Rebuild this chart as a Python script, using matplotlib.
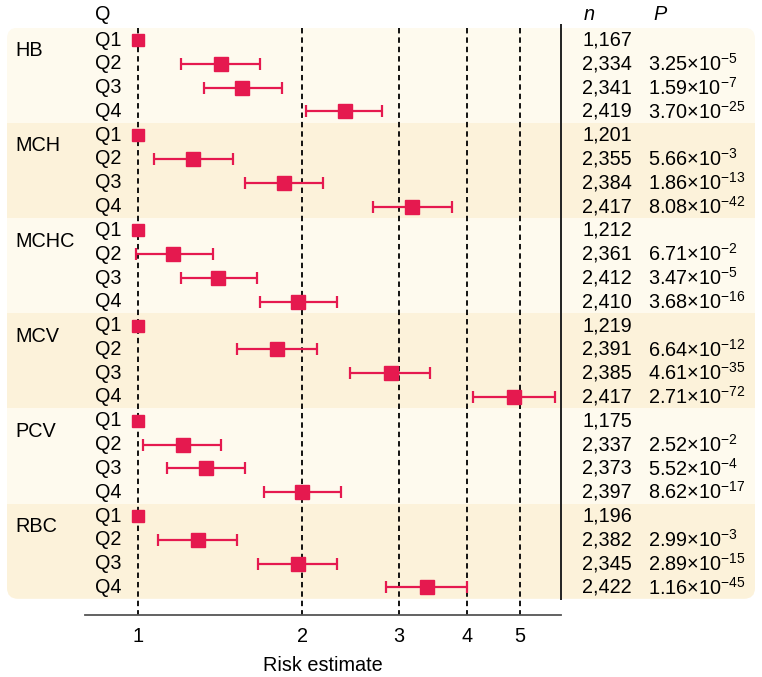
import matplotlib
matplotlib.use("Agg")
import matplotlib.pyplot as plt
from matplotlib.patches import FancyBboxPatch, Rectangle
import numpy as np

plt.rcParams['font.family'] = ['Liberation Sans', 'DejaVu Sans']
plt.rcParams['mathtext.fontset'] = 'custom'
plt.rcParams['mathtext.rm'] = 'Liberation Sans'
plt.rcParams['mathtext.it'] = 'Liberation Sans:italic'
plt.rcParams['mathtext.default'] = 'regular'

# ---------------- data ----------------
groups = ["HB", "MCH", "MCHC", "MCV", "PCV", "RBC"]
quartiles = ["Q1", "Q2", "Q3", "Q4"]

est = {
    "HB":   [1.0, 1.42, 1.55, 2.39],
    "MCH":  [1.0, 1.26, 1.85, 3.17],
    "MCHC": [1.0, 1.16, 1.40, 1.96],
    "MCV":  [1.0, 1.80, 2.90, 4.88],
    "PCV":  [1.0, 1.21, 1.33, 2.00],
    "RBC":  [1.0, 1.29, 1.96, 3.38],
}
ci_low = {
    "HB":   [None, 1.20, 1.32, 2.03],
    "MCH":  [None, 1.07, 1.57, 2.69],
    "MCHC": [None, 0.99, 1.20, 1.67],
    "MCV":  [None, 1.52, 2.44, 4.10],
    "PCV":  [None, 1.02, 1.13, 1.70],
    "RBC":  [None, 1.09, 1.66, 2.85],
}
ci_high = {
    "HB":   [None, 1.675, 1.835, 2.80],
    "MCH":  [None, 1.49, 2.18, 3.76],
    "MCHC": [None, 1.37, 1.65, 2.31],
    "MCV":  [None, 2.13, 3.43, 5.79],
    "PCV":  [None, 1.42, 1.57, 2.35],
    "RBC":  [None, 1.52, 2.31, 4.00],
}
n_values = {
    "HB":   ["1,167", "2,334", "2,341", "2,419"],
    "MCH":  ["1,201", "2,355", "2,384", "2,417"],
    "MCHC": ["1,212", "2,361", "2,412", "2,410"],
    "MCV":  ["1,219", "2,391", "2,385", "2,417"],
    "PCV":  ["1,175", "2,337", "2,373", "2,397"],
    "RBC":  ["1,196", "2,382", "2,345", "2,422"],
}
p_mant = {
    "HB":   [None, "3.25", "1.59", "3.70"],
    "MCH":  [None, "5.66", "1.86", "8.08"],
    "MCHC": [None, "6.71", "3.47", "3.68"],
    "MCV":  [None, "6.64", "4.61", "2.71"],
    "PCV":  [None, "2.52", "5.52", "8.62"],
    "RBC":  [None, "2.99", "2.89", "1.16"],
}
p_exp = {
    "HB":   [None, -5, -7, -25],
    "MCH":  [None, -3, -13, -42],
    "MCHC": [None, -2, -5, -16],
    "MCV":  [None, -12, -35, -72],
    "PCV":  [None, -2, -4, -17],
    "RBC":  [None, -3, -15, -45],
}
xticks = [1, 2, 3, 4, 5]
xlabel = "Risk estimate"

# ---------------- layout ----------------
W, H = 762, 677
DPI = 100
ROW0, ROWSTEP = 40.0, 23.8          # pixel y of first row and row spacing
AX_L, AX_R, AX_T, AX_B = 85, 561, 0, 615
RED = "#E5194F"
LIGHT = "#FEFAEE"
DARK = "#FCF2DA"
FS = 14.3

def row_px(r):
    return ROW0 + ROWSTEP * r

fig = plt.figure(figsize=(W / DPI, H / DPI), dpi=DPI)

# background / text axes in pixel coordinates
bg = fig.add_axes([0, 0, 1, 1], zorder=0)
bg.set_xlim(0, W)
bg.set_ylim(H, 0)
bg.axis("off")

clip = FancyBboxPatch((7, row_px(-0.52)), 755 - 7, row_px(23.48) - row_px(-0.52),
                      boxstyle="round,pad=0,rounding_size=11",
                      facecolor="none", edgecolor="none")
bg.add_patch(clip)
for gi, g in enumerate(groups):
    top = row_px(4 * gi - 0.52)
    bot = row_px(4 * gi + 3.48)
    rect = Rectangle((0, top), W, bot - top,
                     facecolor=LIGHT if gi % 2 == 0 else DARK, edgecolor="none")
    bg.add_patch(rect)
    rect.set_clip_path(clip)

# headers
bg.text(95, 15, "Q", fontsize=FS, ha="left", va="center")
bg.text(584, 15, "n", fontsize=FS, ha="left", va="center", style="italic")
bg.text(653, 15, "P", fontsize=FS, ha="left", va="center", style="italic")

for gi, g in enumerate(groups):
    bg.text(15, row_px(4 * gi + 0.45), g, fontsize=FS, ha="left", va="center")
    for qi, q in enumerate(quartiles):
        r = 4 * gi + qi
        y = row_px(r)
        bg.text(95, y, q, fontsize=FS, ha="left", va="center")
        bg.text(582, y, n_values[g][qi], fontsize=FS, ha="left", va="center")
        if p_mant[g][qi] is not None:
            s = r"$%s{\times}10^{%d}$" % (p_mant[g][qi], p_exp[g][qi])
            s = s.replace("-", "\u2212")
            bg.text(648, y, s, fontsize=FS, ha="left", va="center")

# vertical separator
bg.plot([561, 561], [24, 600], color="#222222", lw=1.4, solid_capstyle="butt")

# main forest axes
ax = fig.add_axes([AX_L / W, (H - AX_B) / H, (AX_R - AX_L) / W, (AX_B - AX_T) / H], zorder=1)
ax.patch.set_alpha(0)
ax.set_xscale("log")
ax.set_xlim(0.8, 5.95)
ax.set_ylim((AX_B - ROW0) / ROWSTEP, (AX_T - ROW0) / ROWSTEP)
for s in ["top", "right", "left"]:
    ax.spines[s].set_visible(False)
ax.spines["bottom"].set_color("#555555")
ax.spines["bottom"].set_linewidth(1.3)
ax.set_yticks([])
ax.set_xticks(xticks)
ax.set_xticklabels([str(t) for t in xticks], fontsize=FS)
ax.xaxis.set_minor_locator(matplotlib.ticker.NullLocator())
ax.tick_params(axis="x", length=0, pad=9)
ax.set_xlabel(xlabel, fontsize=FS, labelpad=7)

for t in xticks:
    ax.plot([t, t], [-0.52, (AX_B - ROW0) / ROWSTEP], color="black", lw=1.3,
            ls=(0, (3, 2.2)), zorder=1)

for gi, g in enumerate(groups):
    for qi in range(4):
        r = 4 * gi + qi
        e = est[g][qi]
        if ci_low[g][qi] is None:
            ax.plot(e, r, marker="s", ms=8, color=RED, mec=RED, zorder=3)
        else:
            ax.errorbar(e, r, xerr=[[e - ci_low[g][qi]], [ci_high[g][qi] - e]],
                        fmt="s", ms=10.5, color=RED, ecolor=RED, elinewidth=1.6,
                        capsize=4, capthick=1.6, zorder=3)

fig.savefig("out.png", dpi=DPI)
